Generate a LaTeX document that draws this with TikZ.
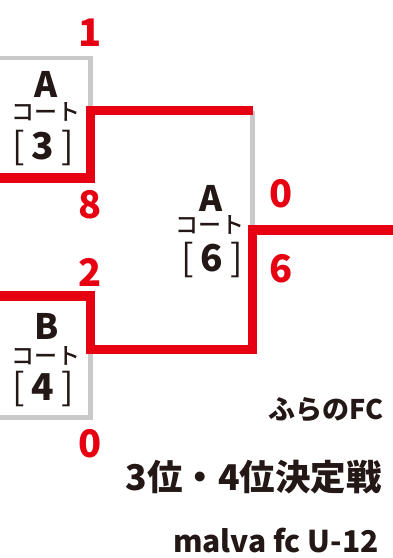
\documentclass[tikz,border=0pt]{standalone}
\usepackage{fontspec}
\setmainfont{Noto Sans CJK JP}
\newfontfamily\kfont{Noto Sans CJK JP Medium}
\definecolor{bred}{HTML}{E60012}
\definecolor{bgray}{HTML}{C9C9C9}
\definecolor{ink}{HTML}{231815}
\tikzset{
  redline/.style={draw=bred,line width=9.5pt,line join=miter},
  grayline/.style={draw=bgray,line width=4.5pt,line join=miter},
  score/.style={text=bred,font=\fontsize{38}{38}\selectfont\bfseries,inner sep=0pt},
  court/.style={text=ink,font=\fontsize{35}{35}\selectfont\bfseries,inner sep=0pt},
  kata/.style={text=ink,font=\kfont\fontsize{23}{23}\selectfont,inner sep=0pt},
  numb/.style={text=ink,font=\fontsize{37}{37}\selectfont,inner sep=0pt},
  title/.style={text=ink,inner sep=0pt,anchor=east},
}
\newcommand{\brk}[1]{[\kern7pt\textbf{#1}\kern7pt]}
\begin{document}
\begin{tikzpicture}[x=1pt,y=-1pt]
\useasboundingbox[fill=white] (0,0) rectangle (393,558);
% coordinates
\coordinate (l1) at (0,58);
\coordinate (c1t) at (90.5,58);
\coordinate (c1m) at (90.5,110.5);
\coordinate (l8) at (0,178);
\coordinate (c1b) at (90.5,178);
\coordinate (mt) at (252.5,110.5);
\coordinate (mm) at (252.5,230);
\coordinate (rr) at (393,230);
\coordinate (mb) at (252.5,349.5);
\coordinate (l2) at (0,296);
\coordinate (c2t) at (90.5,296);
\coordinate (c2m) at (90.5,349.5);
\coordinate (c2b) at (90.5,417.5);
\coordinate (l0) at (0,417.5);
% gray lines
\draw[grayline] (l1) -- (c1t) -- (c1m);
\draw[grayline] (mt) -- (mm);
\draw[grayline] (c2m) -- (c2b) -- (l0);
% red lines
\draw[redline] (l8) -- (c1b) -- (c1m) -- (mt);
\draw[redline] (l2) -- (c2t) -- (c2m) -- (mb) -- (mm) -- (rr);
% scores
\node[score] (s1) at (90,33) {1};
\node[score] (s8) at (90,205) {8};
\node[score] (s2) at (90,272) {2};
\node[score] (s0b) at (90,444) {0};
\node[score] (s0) at (281,194) {0};
\node[score] (s6) at (281,269) {6};
% court labels
\node[court] (a3) at (46,84) {A};
\node[kata] (k3) at (46,111.5) {コート};
\node[numb] (n3) at (43,148) {\brk{3}};
\node[court] (a6) at (211,198) {A};
\node[kata] (k6) at (210,225) {コート};
\node[numb] (n6) at (212,260) {\brk{6}};
\node[court] (b4) at (47,326) {B};
\node[kata] (k4) at (46,356) {コート};
\node[numb] (n4) at (43,389) {\brk{4}};
% titles
\node[title,font=\fontsize{27}{27}\selectfont\bfseries] (t1) at (384,410) {ふらのFC};
\node[title,font=\fontsize{35.5}{35.5}\selectfont\bfseries] (t2) at (382,477) {3位・4位決定戦};
\node[title,anchor=base east,font=\fontsize{30}{30}\selectfont\bfseries] (t3) at (379,552) {malva fc U-12};
\end{tikzpicture}
\end{document}
